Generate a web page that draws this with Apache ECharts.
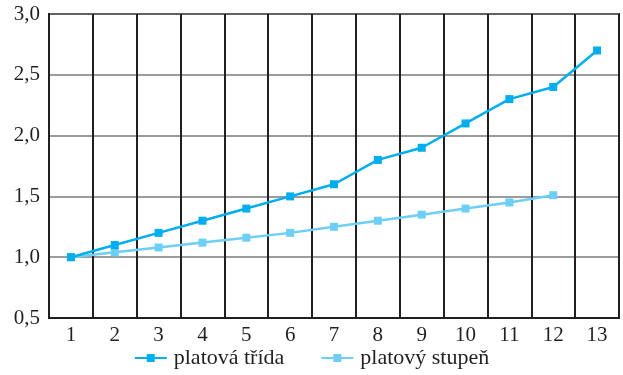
<!DOCTYPE html>
<html>
<head>
<meta charset="utf-8">
<script src="https://cdn.jsdelivr.net/npm/echarts@6/dist/echarts.min.js"></script>
<style>
html, body { margin: 0; padding: 0; background: #fff; }
#chart { width: 623px; height: 375px; }
</style>
</head>
<body>
<div id="chart"></div>
<script>
// categories (x axis) and the two series
const categories = ['1', '2', '3', '4', '5', '6', '7', '8', '9', '10', '11', '12', '13'];
const platovaTrida = [1.0, 1.1, 1.2, 1.3, 1.4, 1.5, 1.6, 1.8, 1.9, 2.1, 2.3, 2.4, 2.7];
const platovyStupen = [1.0, 1.04, 1.08, 1.12, 1.16, 1.2, 1.25, 1.3, 1.35, 1.4, 1.45, 1.51];

const textColor = '#231f20';
const font = '"Liberation Serif", "DejaVu Serif", serif';

const chart = echarts.init(document.getElementById('chart'), null, { renderer: 'canvas' });
chart.setOption({
  animation: false,
  backgroundColor: '#fff',
  textStyle: { fontFamily: font },
  grid: {
    left: 49, right: 4, top: 14, bottom: 57,
    show: true, borderColor: textColor, borderWidth: 2
  },
  legend: {
    bottom: 1,
    left: 'center',
    itemWidth: 32,
    itemHeight: 10,
    itemGap: 36,
    textStyle: { fontFamily: font, fontSize: 22, color: textColor, padding: [0, 0, 0, 2] },
    data: ['platová třída', 'platový stupeň']
  },
  xAxis: {
    type: 'category',
    data: categories,
    boundaryGap: true,
    axisLine: { lineStyle: { color: textColor, width: 2 } },
    axisTick: { show: false },
    axisLabel: { fontFamily: font, fontSize: 21, color: textColor, margin: 7 },
    splitLine: { show: true, lineStyle: { color: textColor, width: 2 } }
  },
  yAxis: {
    type: 'value',
    min: 0.5, max: 3.0, interval: 0.5,
    axisLine: { show: true, lineStyle: { color: textColor, width: 2 } },
    axisTick: { show: false },
    axisLabel: {
      fontFamily: font, fontSize: 21, color: textColor, margin: 9,
      formatter: v => v.toFixed(1).replace('.', ',')
    },
    splitLine: { show: true, lineStyle: { color: '#7a7a7a', width: 1.5 } }
  },
  series: [
    {
      name: 'platová třída',
      type: 'line',
      data: platovaTrida,
      symbol: 'rect',
      symbolSize: 8,
      color: '#00aeef',
      lineStyle: { width: 2.5, color: '#00aeef' },
      itemStyle: { color: '#00aeef' },
      z: 3
    },
    {
      name: 'platový stupeň',
      type: 'line',
      data: platovyStupen,
      symbol: 'rect',
      symbolSize: 8,
      color: '#6dcff6',
      lineStyle: { width: 2.5, color: '#6dcff6' },
      itemStyle: { color: '#6dcff6' },
      z: 2
    }
  ]
});
</script>
</body>
</html>
